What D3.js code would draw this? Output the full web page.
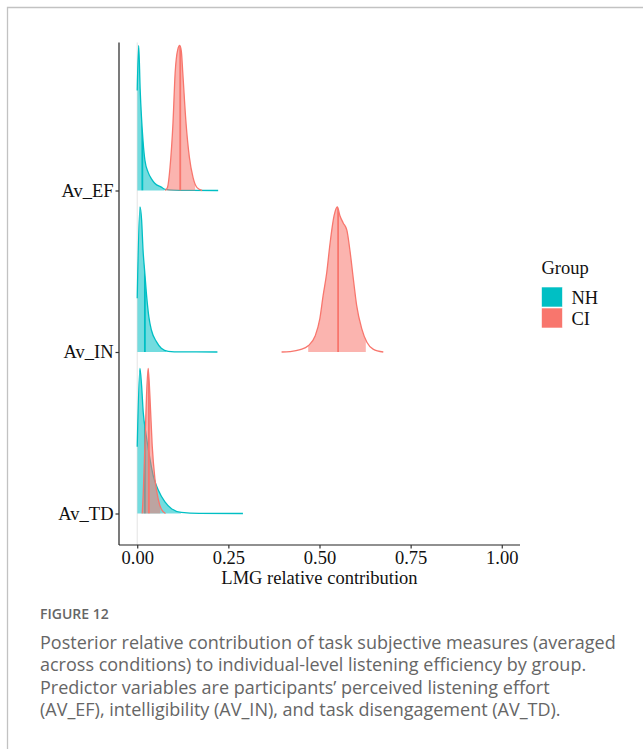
<!DOCTYPE html>
<html>
  <head>
    <meta charset="utf-8">
    <title>LMG relative contribution</title>
    <style>
      body { margin: 0; background: #fff; }
      .serif { font-family: "Liberation Serif", "Times New Roman", serif; }
      .caption { font-family: "Open Sans", "Noto Sans", sans-serif; fill: #666; }
    </style>
  </head>
  <body>
    <script src="https://cdn.jsdelivr.net/npm/d3@7"></script>
    <script>
      // Groups and predictors
      var groups = ["NH", "CI"];
      var groupColors = ["#00BFC4", "#F8766D"];
      var predictors = ["Av_EF", "Av_IN", "Av_TD"];
      var xTicks = [0, 0.25, 0.5, 0.75, 1];

      // Posterior densities (x = LMG, d = density scaled to peak 1)
      var efNhX = [0, 0.004, 0.008, 0.016, 0.021, 0.03, 0.039, 0.048, 0.066, 0.077, 0.10, 0.15, 0.222];
      var efNhD = [0.69, 1.0, 0.70, 0.34, 0.21, 0.125, 0.08, 0.05, 0.023, 0.008, 0.003, 0.001, 0];
      var efCiX = [0.077, 0.083, 0.090, 0.098, 0.104, 0.111, 0.1165, 0.121, 0.125, 0.134, 0.143, 0.153, 0.164, 0.178];
      var efCiD = [0, 0.02, 0.16, 0.46, 0.81, 0.97, 1.0, 0.96, 0.81, 0.46, 0.23, 0.09, 0.02, 0];
      var inNhX = [0, 0.0074, 0.012, 0.016, 0.021, 0.026, 0.032, 0.039, 0.053, 0.066, 0.085, 0.12, 0.22];
      var inNhD = [0.37, 1.0, 0.91, 0.70, 0.54, 0.38, 0.24, 0.15, 0.07, 0.026, 0.005, 0.001, 0];
      var inCiX = [0.396, 0.419, 0.447, 0.469, 0.488, 0.501, 0.510, 0.520, 0.529, 0.540, 0.549, 0.556, 0.565, 0.575, 0.584, 0.593, 0.602, 0.616, 0.630, 0.647, 0.675];
      var inCiD = [0, 0.003, 0.016, 0.043, 0.11, 0.23, 0.39, 0.55, 0.75, 0.94, 1.0, 0.94, 0.89, 0.84, 0.69, 0.50, 0.32, 0.16, 0.067, 0.02, 0];
      var tdNhX = [0, 0.0074, 0.012, 0.0164, 0.024, 0.032, 0.044, 0.058, 0.076, 0.094, 0.121, 0.17, 0.29];
      var tdNhD = [0.46, 1.0, 0.88, 0.70, 0.55, 0.42, 0.26, 0.16, 0.08, 0.033, 0.008, 0.001, 0];
      var tdCiX = [0.0137, 0.0164, 0.021, 0.0255, 0.030, 0.0348, 0.041, 0.0485, 0.0575, 0.066, 0.0775];
      var tdCiD = [0, 0.13, 0.47, 0.81, 1.0, 0.81, 0.47, 0.24, 0.10, 0.03, 0];

      // Quantiles 2.5%, 50%, 97.5%
      var efNhQ = [0, 0.014, 0.075];
      var efCiQ = [0.081, 0.118, 0.159];
      var inNhQ = [0, 0.021, 0.08];
      var inCiQ = [0.469, 0.551, 0.627];
      var tdNhQ = [0, 0.021, 0.12];
      var tdCiQ = [0.016, 0.032, 0.063];

      var captionTitle = "FIGURE 12";
      var captionLines = [
        "Posterior relative contribution of task subjective measures (averaged",
        "across conditions) to individual-level listening efficiency by group.",
        "Predictor variables are participants\u2019 perceived listening effort",
        "(AV_EF), intelligibility (AV_IN), and task disengagement (AV_TD)."
      ];

      function pts(xs, ds) {
        return xs.map(function(x, i) { return { x: x, d: ds[i] }; });
      }

      var ridges = [
        { pred: "Av_EF", group: 0, pts: pts(efNhX, efNhD), q: efNhQ },
        { pred: "Av_EF", group: 1, pts: pts(efCiX, efCiD), q: efCiQ },
        { pred: "Av_IN", group: 0, pts: pts(inNhX, inNhD), q: inNhQ },
        { pred: "Av_IN", group: 1, pts: pts(inCiX, inCiD), q: inCiQ },
        { pred: "Av_TD", group: 0, pts: pts(tdNhX, tdNhD), q: tdNhQ },
        { pred: "Av_TD", group: 1, pts: pts(tdCiX, tdCiD), q: tdCiQ }
      ];

      var width = 643, height = 749;
      var svg = d3.select("body").append("svg")
        .attr("width", width)
        .attr("height", height);

      // Figure frame (top and left edges)
      svg.append("path")
        .attr("d", "M643,7.5H7.5V749")
        .attr("fill", "none")
        .attr("stroke", "#c2c2c2")
        .attr("stroke-width", 1.3);

      // Panel bounds
      var panelLeft = 119, panelRight = 520, panelTop = 42.5, panelBottom = 545;

      var x = d3.scaleLinear().domain([-0.05, 1.05]).range([panelLeft, panelRight]);
      var y = d3.scalePoint().domain(predictors).range([190.5, 513.5]);
      var h = d3.scaleLinear().domain([0, 1]).range([0, 145]);

      // zero reference line
      svg.append("line")
        .attr("x1", x(0)).attr("x2", x(0))
        .attr("y1", panelTop).attr("y2", panelBottom)
        .attr("stroke", "#e3e3e3")
        .attr("stroke-width", 1);

      var defs = svg.append("defs");

      ridges.forEach(function(r, i) {
        var base = y(r.pred);
        var color = groupColors[r.group];
        var area = d3.area()
          .x(function(p) { return x(p.x); })
          .y0(base)
          .y1(function(p) { return base - h(p.d); })
          .curve(d3.curveMonotoneX);
        var line = area.lineY1();

        // shaded central interval
        defs.append("clipPath").attr("id", "ci" + i)
          .append("rect")
          .attr("x", x(r.q[0]))
          .attr("width", x(r.q[2]) - x(r.q[0]))
          .attr("y", panelTop).attr("height", panelBottom - panelTop);
        // clip to the density shape for the median line
        defs.append("clipPath").attr("id", "shape" + i)
          .append("path").attr("d", area(r.pts));

        var g = svg.append("g");
        g.append("path")
          .attr("d", area(r.pts))
          .attr("fill", color)
          .attr("fill-opacity", 0.55)
          .attr("clip-path", "url(#ci" + i + ")");
        g.append("line")
          .attr("x1", x(r.q[1])).attr("x2", x(r.q[1]))
          .attr("y1", base).attr("y2", panelTop)
          .attr("stroke", color)
          .attr("stroke-width", 1.8)
          .attr("clip-path", "url(#shape" + i + ")");
        g.append("path")
          .attr("d", line(r.pts))
          .attr("fill", "none")
          .attr("stroke", color)
          .attr("stroke-width", 1.3);
      });

      // Axes
      var xAxis = svg.append("g")
        .attr("class", "serif")
        .attr("transform", "translate(0," + panelBottom + ")")
        .call(d3.axisBottom(x).tickValues(xTicks).tickFormat(d3.format(".2f")).tickSize(3.5).tickPadding(2));
      var yAxis = svg.append("g")
        .attr("class", "serif")
        .attr("transform", "translate(" + panelLeft + ",0)")
        .call(d3.axisLeft(y).tickSize(3.5).tickPadding(2));

      [xAxis, yAxis].forEach(function(a) {
        a.select(".domain").attr("stroke", "#222").attr("stroke-width", 1.2);
        a.selectAll(".tick line").attr("stroke", "#333").attr("stroke-width", 1.2);
        a.selectAll(".tick text")
          .attr("fill", "#111")
          .style("font-family", "'Liberation Serif', 'Times New Roman', serif")
          .style("font-size", "18.5px");
      });
      // axis domains drawn as plain lines across the panel
      yAxis.select(".domain").attr("d", "M0," + panelTop + "V" + panelBottom);
      xAxis.select(".domain").attr("d", "M" + panelLeft + ",0H" + panelRight);

      svg.append("text")
        .attr("class", "serif")
        .attr("x", (panelLeft + panelRight) / 2)
        .attr("y", 584)
        .attr("text-anchor", "middle")
        .attr("fill", "#111")
        .style("font-size", "18.5px")
        .text("LMG relative contribution");

      // Legend
      var legend = svg.append("g").attr("class", "serif").attr("transform", "translate(541.5,0)");
      legend.append("text")
        .attr("x", 0).attr("y", 274)
        .attr("fill", "#111")
        .style("font-size", "18.5px")
        .text("Group");
      groups.forEach(function(gname, i) {
        legend.append("rect")
          .attr("x", 0).attr("y", 287 + i * 21)
          .attr("width", 21).attr("height", 20)
          .attr("fill", groupColors[i])
          .attr("stroke", "#fff")
          .attr("stroke-width", 0.6);
        legend.append("text")
          .attr("x", 30).attr("y", 304 + i * 21)
          .attr("fill", "#111")
          .style("font-size", "18.5px")
          .text(gname);
      });

      // Caption
      svg.append("text")
        .attr("class", "caption")
        .attr("x", 40).attr("y", 619)
        .attr("fill", "#555")
        .style("font-size", "14px")
        .style("font-weight", 600)
        .text(captionTitle);
      svg.selectAll("text.capline")
        .data(captionLines)
        .enter().append("text")
        .attr("class", "caption capline")
        .attr("x", 40)
        .attr("y", function(d, i) { return 648.5 + i * 22.5; })
        .style("font-size", "18px")
        .text(function(d) { return d; });
    </script>
  </body>
</html>
